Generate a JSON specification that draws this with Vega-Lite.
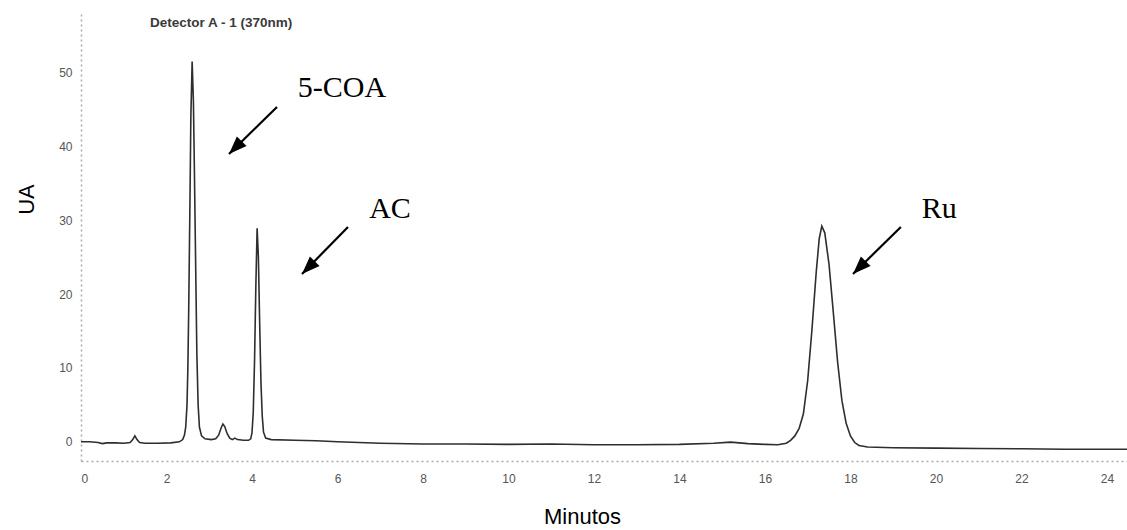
{
  "$schema": "https://vega.github.io/schema/vega-lite/v6.json",
  "autosize": {"type": "none"},
  "width": 1046,
  "height": 449,
  "padding": {"left": 81, "top": 12, "right": 0, "bottom": 69},
  "background": "white",
  "title": {
    "text": "Detector A - 1 (370nm)",
    "anchor": "start",
    "frame": "group",
    "orient": "top",
    "dx": 69,
    "offset": -24,
    "baseline": "middle",
    "font": "Liberation Sans",
    "fontSize": 13.5,
    "fontWeight": "bold",
    "color": "#3a3a3a"
  },
  "config": {
    "view": {"stroke": null},
    "axis": {"grid": false, "ticks": false}
  },
  "datasets": {
    "trace": [
      {"min": 0.0, "ua": 0.0},
      {"min": 0.2, "ua": 0.0},
      {"min": 0.4, "ua": -0.1},
      {"min": 0.5, "ua": -0.25},
      {"min": 0.6, "ua": -0.15},
      {"min": 0.8, "ua": -0.15},
      {"min": 1.0, "ua": -0.2},
      {"min": 1.15, "ua": -0.1},
      {"min": 1.21, "ua": 0.3},
      {"min": 1.26, "ua": 0.8},
      {"min": 1.31, "ua": 0.3},
      {"min": 1.37, "ua": -0.1},
      {"min": 1.5, "ua": -0.2},
      {"min": 1.8, "ua": -0.2},
      {"min": 2.1, "ua": -0.15},
      {"min": 2.3, "ua": 0.0},
      {"min": 2.38, "ua": 0.3},
      {"min": 2.42, "ua": 0.9},
      {"min": 2.45, "ua": 2.0},
      {"min": 2.48, "ua": 5.0},
      {"min": 2.5, "ua": 10.0},
      {"min": 2.52, "ua": 18.0},
      {"min": 2.55, "ua": 33.0},
      {"min": 2.57, "ua": 44.0},
      {"min": 2.6, "ua": 51.5},
      {"min": 2.63, "ua": 46.0},
      {"min": 2.65, "ua": 38.0},
      {"min": 2.68, "ua": 25.0},
      {"min": 2.71, "ua": 12.0},
      {"min": 2.74, "ua": 5.0},
      {"min": 2.77, "ua": 2.0},
      {"min": 2.82, "ua": 0.8},
      {"min": 2.9, "ua": 0.4},
      {"min": 3.05, "ua": 0.3},
      {"min": 3.15, "ua": 0.4},
      {"min": 3.22, "ua": 0.9},
      {"min": 3.28, "ua": 1.9},
      {"min": 3.32, "ua": 2.4},
      {"min": 3.36, "ua": 2.1},
      {"min": 3.42, "ua": 1.1},
      {"min": 3.48, "ua": 0.5},
      {"min": 3.54, "ua": 0.3},
      {"min": 3.6, "ua": 0.5},
      {"min": 3.66, "ua": 0.3},
      {"min": 3.8, "ua": 0.2},
      {"min": 3.92, "ua": 0.2},
      {"min": 3.97, "ua": 0.4},
      {"min": 4.0, "ua": 1.2},
      {"min": 4.03, "ua": 4.0},
      {"min": 4.06, "ua": 11.0},
      {"min": 4.09, "ua": 21.0},
      {"min": 4.12, "ua": 28.9},
      {"min": 4.15, "ua": 25.0},
      {"min": 4.18, "ua": 16.0},
      {"min": 4.21, "ua": 8.0},
      {"min": 4.24, "ua": 3.5},
      {"min": 4.27, "ua": 1.3},
      {"min": 4.32, "ua": 0.5},
      {"min": 4.45, "ua": 0.3},
      {"min": 5.0, "ua": 0.2},
      {"min": 5.5, "ua": 0.15},
      {"min": 6.0, "ua": 0.0},
      {"min": 6.5, "ua": -0.1},
      {"min": 7.0, "ua": -0.2},
      {"min": 8.0, "ua": -0.3},
      {"min": 9.0, "ua": -0.3},
      {"min": 10.0, "ua": -0.35},
      {"min": 11.0, "ua": -0.3},
      {"min": 12.0, "ua": -0.4},
      {"min": 13.0, "ua": -0.4},
      {"min": 14.0, "ua": -0.35},
      {"min": 14.8, "ua": -0.2},
      {"min": 15.2, "ua": -0.05},
      {"min": 15.6, "ua": -0.25},
      {"min": 16.0, "ua": -0.35},
      {"min": 16.3, "ua": -0.4},
      {"min": 16.5, "ua": -0.2},
      {"min": 16.6, "ua": 0.2},
      {"min": 16.7, "ua": 0.8},
      {"min": 16.8, "ua": 1.8},
      {"min": 16.9, "ua": 3.8},
      {"min": 17.0, "ua": 8.3},
      {"min": 17.1, "ua": 15.2},
      {"min": 17.2, "ua": 23.0},
      {"min": 17.27, "ua": 27.5},
      {"min": 17.33, "ua": 29.2},
      {"min": 17.4, "ua": 28.3},
      {"min": 17.5, "ua": 24.0},
      {"min": 17.6, "ua": 17.5},
      {"min": 17.7, "ua": 10.8},
      {"min": 17.8, "ua": 5.6},
      {"min": 17.9, "ua": 2.5},
      {"min": 18.0, "ua": 0.8},
      {"min": 18.1, "ua": -0.1},
      {"min": 18.2, "ua": -0.5},
      {"min": 18.4, "ua": -0.7},
      {"min": 19.0, "ua": -0.8},
      {"min": 20.0, "ua": -0.85},
      {"min": 21.0, "ua": -0.9},
      {"min": 22.0, "ua": -0.95},
      {"min": 23.0, "ua": -1.0},
      {"min": 24.0, "ua": -1.0},
      {"min": 24.47, "ua": -1.0}
    ],
    "labels": [
      {"name": "5-COA", "min": 6.105, "ua": 46.68},
      {"name": "AC", "min": 7.228, "ua": 30.31},
      {"name": "Ru", "min": 20.08, "ua": 30.31}
    ],
    "arrows": [
      {"name": "5-COA", "min": 4.585, "ua": 45.33, "min2": 3.462, "ua2": 38.97},
      {"name": "AC", "min": 6.246, "ua": 29.09, "min2": 5.17, "ua2": 22.73},
      {"name": "Ru", "min": 19.18, "ua": 29.09, "min2": 18.06, "ua2": 22.73}
    ]
  },
  "layer": [
    {
      "data": {"name": "trace"},
      "mark": {"type": "line", "color": "#2e2e2e", "strokeWidth": 1.6, "clip": false},
      "encoding": {
        "x": {
          "field": "min", "type": "quantitative",
          "scale": {"domain": [0, 24.47], "nice": false, "zero": false},
          "axis": {
            "title": "Minutos",
            "values": [0, 2, 4, 6, 8, 10, 12, 14, 16, 18, 20, 22, 24],
            "labelFont": "Liberation Sans", "labelFontSize": 12, "labelColor": "#555",
            "labelPadding": 12,
            "domainColor": "#aaa", "domainDash": [2, 3], "domainWidth": 1.5,
            "titleFont": "Liberation Sans", "titleFontSize": 22, "titleFontWeight": "normal",
            "titleColor": "#000", "titleX": 501, "titleY": 62,
            "titleAlign": "center", "titleBaseline": "alphabetic"
          }
        },
        "y": {
          "field": "ua", "type": "quantitative",
          "scale": {"domain": [-2.6, 58.2], "nice": false, "zero": false},
          "axis": {
            "title": "UA",
            "values": [0, 10, 20, 30, 40, 50],
            "labelFont": "Liberation Sans", "labelFontSize": 12, "labelColor": "#555",
            "labelPadding": 9,
            "domainColor": "#aaa", "domainDash": [2, 3], "domainWidth": 1.5,
            "titleFont": "Liberation Sans", "titleFontSize": 22, "titleFontWeight": "normal",
            "titleColor": "#000", "titleAngle": 270, "titleX": -48, "titleY": 187,
            "titleAlign": "center", "titleBaseline": "alphabetic"
          }
        }
      }
    },
    {
      "data": {"name": "arrows"},
      "mark": {"type": "rule", "color": "#000", "strokeWidth": 2.2},
      "encoding": {
        "x": {"field": "min", "type": "quantitative"},
        "y": {"field": "ua", "type": "quantitative"},
        "x2": {"field": "min2"},
        "y2": {"field": "ua2"}
      }
    },
    {
      "data": {"name": "arrows"},
      "mark": {"type": "point", "shape": "M0,0L0.38,1L-0.38,1Z", "filled": true, "color": "#000", "opacity": 1, "size": 1296, "angle": 225},
      "encoding": {
        "x": {"field": "min2", "type": "quantitative"},
        "y": {"field": "ua2", "type": "quantitative"}
      }
    },
    {
      "data": {"name": "labels"},
      "mark": {"type": "text", "font": "Liberation Serif", "fontSize": 30, "color": "#000", "align": "center", "baseline": "alphabetic"},
      "encoding": {
        "x": {"field": "min", "type": "quantitative"},
        "y": {"field": "ua", "type": "quantitative"},
        "text": {"field": "name"}
      }
    }
  ]
}
